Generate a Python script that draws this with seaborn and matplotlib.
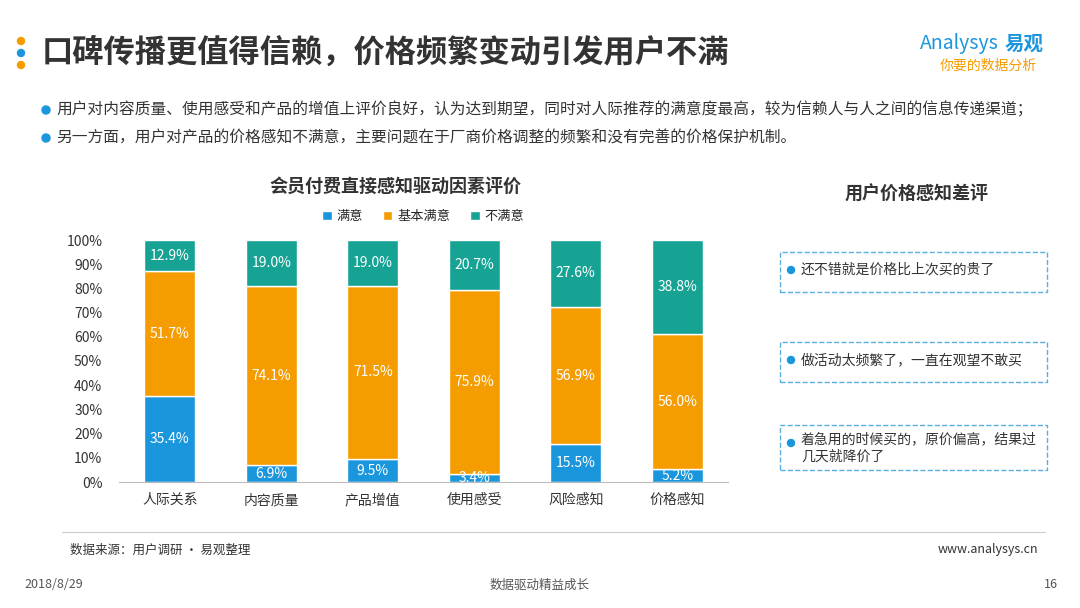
import matplotlib
matplotlib.use('Agg')
import matplotlib.pyplot as plt
import seaborn as sns
import numpy as np
from matplotlib.patches import Rectangle, Ellipse

categories = ['人际关系', '内容质量', '产品增值', '使用感受', '风险感知', '价格感知']
satisfied = [35.4, 6.9, 9.5, 3.4, 15.5, 5.2]
basic = [51.7, 74.1, 71.5, 75.9, 56.9, 56.0]
unsatisfied = [12.9, 19.0, 19.0, 20.7, 27.6, 38.8]
series_names = ['满意', '基本满意', '不满意']
colors = ['#1a96dc', '#f59c00', '#16a394']
complaints = ['还不错就是价格比上次买的贵了', '做活动太频繁了，一直在观望不敢买',
              '着急用的时候买的，原价偏高，结果过\n几天就降价了']

sns.set_style('white')
plt.rcParams['font.family'] = ['Noto Sans CJK SC', 'DejaVu Sans']

fig = plt.figure(figsize=(10.8, 6.08), dpi=100)

def fx(px): return px / 1080
def fy(py): return 1 - py / 608

def dot(x, y, c, r=3.5):
    fig.add_artist(Ellipse((fx(x), fy(y)), 2 * r / 1080, 2 * r / 608, color=c, transform=fig.transFigure))

# header
for i, c in enumerate(['#f59c00', '#1a96dc', '#f59c00']):
    dot(21, 41 + i * 12, c, 3.5)
fig.text(fx(42), fy(53), '口碑传播更值得信赖，价格频繁变动引发用户不满', fontsize=22.5, fontweight='bold',
         color='#333333', va='center')
fig.text(fx(920), fy(44), 'Analysys', fontsize=14, color='#1a96dc', style='italic', va='center')
fig.text(fx(1005), fy(44), '易观', fontsize=14, color='#1a96dc', fontweight='bold', va='center')
fig.text(fx(940), fy(66), '你要的数据分析', fontsize=10, color='#f59c00', style='italic', va='center')

bullets = ['用户对内容质量、使用感受和产品的增值上评价良好，认为达到期望，同时对人际推荐的满意度最高，较为信赖人与人之间的信息传递渠道；',
           '另一方面，用户对产品的价格感知不满意，主要问题在于厂商价格调整的频繁和没有完善的价格保护机制。']
for i, b in enumerate(bullets):
    y = 110 + i * 28
    dot(46, y, '#1a96dc', 4)
    fig.text(fx(56), fy(y), b, fontsize=11.3, color='#333333', va='center')

# chart
ax = fig.add_axes([fx(119), fy(482), fx(609), (482 - 240) / 608])
bottom = np.zeros(len(categories))
for vals, name, c in zip([satisfied, basic, unsatisfied], series_names, colors):
    sns.barplot(x=categories, y=vals, bottom=bottom, color=c, width=0.5, ax=ax, label=name,
                saturation=1)
    for i, v in enumerate(vals):
        ax.text(i, bottom[i] + v / 2, f'{v}%', ha='center', va='center', color='white', fontsize=10)
    bottom += np.array(vals)
ax.set_xlim(-0.5, 5.5)
ax.set_ylim(0, 100)
ax.set_yticks(range(0, 101, 10))
ax.set_yticklabels([f'{v}%' for v in range(0, 101, 10)], fontsize=10, color='#333333')
ax.tick_params(axis='x', labelsize=10, colors='#333333', length=0, pad=8)
ax.tick_params(axis='y', length=0, pad=12)
sns.despine(ax=ax, left=True)
ax.spines['bottom'].set_color('#bbbbbb')
ax.legend(loc='lower center', bbox_to_anchor=(0.5, 1.02), ncol=3, frameon=False, fontsize=9.5,
          handlelength=0.7, handleheight=0.7, columnspacing=1.5, handletextpad=0.4)
fig.text(fx(395), fy(186), '会员付费直接感知驱动因素评价', fontsize=13, fontweight='bold',
         color='#333333', ha='center', va='center')

# right panel
fig.text(fx(917), fy(194), '用户价格感知差评', fontsize=13, fontweight='bold', color='#333333',
         ha='center', va='center')
boxes = [(252, 292), (342, 382), (425, 470)]
for (t, b), txt in zip(boxes, complaints):
    fig.add_artist(Rectangle((fx(780), fy(b)), fx(267), (b - t) / 608, fill=False, ec='#5aaee0',
                             ls='--', lw=1, transform=fig.transFigure))
    dot(791, t + 18, '#1a96dc', 3.5)
    if '\n' in txt:
        fig.text(fx(801), fy(t + 7), txt, fontsize=10, color='#333333', va='top', linespacing=1.3)
    else:
        fig.text(fx(801), fy(t + 18), txt, fontsize=10, color='#333333', va='center')

# footer
fig.add_artist(plt.Line2D([fx(62), fx(1045)], [fy(532), fy(532)], color='#cccccc', lw=0.8))
fig.text(fx(70), fy(550), '数据来源：用户调研 · 易观整理', fontsize=9, color='#333333', va='center')
fig.text(fx(1038), fy(550), 'www.analysys.cn', fontsize=9, color='#333333', va='center', ha='right')
fig.text(fx(24), fy(585), '2018/8/29', fontsize=9, color='#555555', va='center')
fig.text(fx(540), fy(585), '数据驱动精益成长', fontsize=9, color='#555555', va='center', ha='center')
fig.text(fx(1058), fy(585), '16', fontsize=9, color='#555555', va='center', ha='right')

fig.savefig('out.png', dpi=100)
